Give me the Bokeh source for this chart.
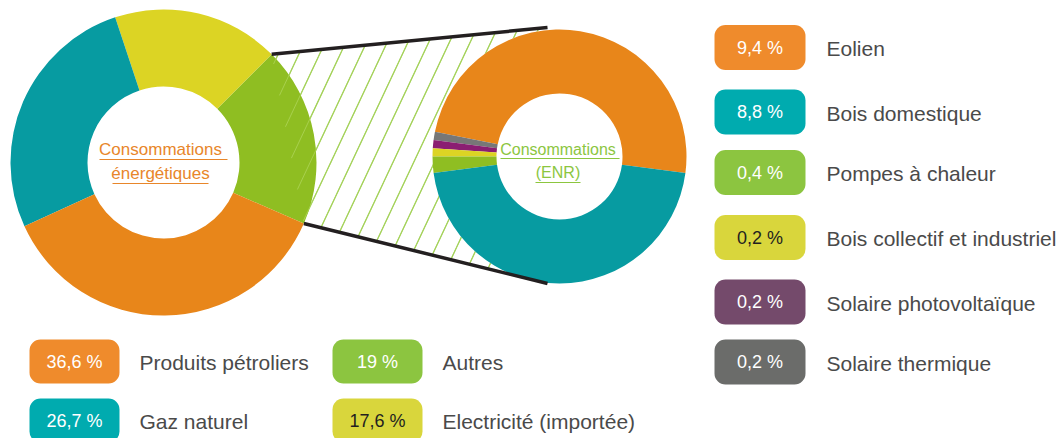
import numpy as np
from bokeh.plotting import figure
from bokeh.models import Range1d
from bokeh.core.properties import value
from bokeh.embed import file_html
from bokeh.resources import INLINE

# ---------------- data ----------------
ener_labels = ["Produits pétroliers", "Gaz naturel", "Autres", "Electricité (importée)"]
ener_values = [36.6, 26.7, 19.0, 17.6]
ener_text = ["36,6 %", "26,7 %", "19 %", "17,6 %"]
ener_slice_colors = ["#e8861a", "#079ba1", "#8fbe22", "#dcd424"]
ener_box_colors = ["#ef8b2c", "#00abaf", "#8cc540", "#d9d63c"]
ener_text_colors = ["white", "white", "white", "#231f20"]

enr_labels = ["Eolien", "Bois domestique", "Pompes à chaleur",
              "Bois collectif et industriel", "Solaire photovoltaïque", "Solaire thermique"]
enr_values = [9.4, 8.8, 0.4, 0.2, 0.2, 0.2]
enr_text = ["9,4 %", "8,8 %", "0,4 %", "0,2 %", "0,2 %", "0,2 %"]
enr_slice_colors = ["#e8861a", "#079ba1", "#8fbe22", "#dcd424", "#8b1e72", "#777777"]
enr_box_colors = ["#ef8b2c", "#00abaf", "#8cc540", "#d9d63c", "#744a6b", "#6b6c6a"]
enr_text_colors = ["white", "white", "white", "#231f20", "white", "white"]

FONT = "Liberation Sans"
W, H = 1064, 438


def Y(py):
    return H - py


p = figure(width=W, height=H, x_range=Range1d(0, W), y_range=Range1d(0, H),
           output_backend="svg", toolbar_location=None, min_border=0,
           x_axis_type=None, y_axis_type=None)
p.grid.visible = False
p.outline_line_color = None
p.background_fill_color = "white"
p.border_fill_color = "white"

# ---------------- geometry ----------------
L_CX, L_CY, L_R, L_r = 163, Y(162), 153, 76
R_CX, R_CY, R_R, R_r = 559, Y(156), 127, 63

# left donut: anticlockwise order Autres, Electricité, Gaz, Produits; Autres ends at 45deg
left_order = [2, 3, 1, 0]
ltot = sum(ener_values)
a_end_autres = np.radians(45)
a = a_end_autres - ener_values[2] / ltot * 2 * np.pi
l_start, l_end = [], []
for i in left_order:
    l_start.append(a)
    a += ener_values[i] / ltot * 2 * np.pi
    l_end.append(a)
green_start = l_start[0]

# right donut: anticlockwise Eolien, S.thermique, S.PV, Bois coll., PAC, Bois dom.
right_order = [0, 5, 4, 3, 2, 1]
rtot = sum(enr_values)
a = np.radians(-7.5)
r_start, r_end = [], []
for i in right_order:
    r_start.append(a)
    a += enr_values[i] / rtot * 2 * np.pi
    r_end.append(a)

# connector quad
P1 = np.array([L_CX + L_R * np.cos(a_end_autres), L_CY + L_R * np.sin(a_end_autres)])
P4 = np.array([L_CX + L_R * np.cos(green_start), L_CY + L_R * np.sin(green_start)])
P2 = np.array([R_CX - 12, R_CY + R_R + 2])
P3 = np.array([R_CX - 12, R_CY - R_R])
poly = [P4, P3, P2, P1]


def clip(a0, b0, poly):
    t0, t1 = 0.0, 1.0
    d = b0 - a0
    n = len(poly)
    for i in range(n):
        e0 = poly[i]
        e1 = poly[(i + 1) % n]
        edge = e1 - e0
        normal = np.array([-edge[1], edge[0]])
        num = np.dot(normal, a0 - e0)
        den = np.dot(normal, d)
        if abs(den) < 1e-12:
            if num < 0:
                return None
            continue
        t = -num / den
        if den > 0:
            t0 = max(t0, t)
        else:
            t1 = min(t1, t)
    if t0 >= t1:
        return None
    return a0 + t0 * d, a0 + t1 * d


k = 0.47
spacing = 21.7
hx0, hy0, hx1, hy1 = [], [], [], []
for n in range(-14, 16):
    xt = 343 + spacing * n
    tt = (xt - P1[0]) / (P2[0] - P1[0])
    yt = P1[1] + tt * (P2[1] - P1[1])
    a0 = np.array([xt - k * 400, yt - 400])
    b0 = np.array([xt + k * 400, yt + 400])
    seg = clip(a0, b0, poly)
    if seg is not None:
        hx0.append(seg[0][0]); hy0.append(seg[0][1])
        hx1.append(seg[1][0]); hy1.append(seg[1][1])

HATCH = "#8cc63f"
p.segment(hx0, hy0, hx1, hy1, line_color=HATCH, line_width=1.2)

# left donut
p.annular_wedge(x=L_CX, y=L_CY, inner_radius=L_r, outer_radius=L_R,
                start_angle=l_start, end_angle=l_end,
                fill_color=[ener_slice_colors[i] for i in left_order], line_color=None)
# faint hatch visible through green slice
p.segment(hx0, hy0, hx1, hy1, line_color="#b9dc6a", line_width=1.0, line_alpha=0.6)

# right donut (with white hole)
p.circle(x=[R_CX], y=[R_CY], radius=R_R, fill_color="white", line_color=None)
p.annular_wedge(x=R_CX, y=R_CY, inner_radius=R_r, outer_radius=R_R,
                start_angle=r_start, end_angle=r_end,
                fill_color=[enr_slice_colors[i] for i in right_order], line_color=None)

# connector lines
p.segment([P1[0], P4[0]], [P1[1], P4[1]], [P2[0], P3[0]], [P2[1], P3[1]],
          line_color="#231f20", line_width=3.5)

# centre labels (alphabetic baseline renders ~7.5px low, compensate)
ORANGE_T = "#e8862a"
GREEN_T = "#8cc63f"
p.text(x=[160, 160], y=[Y(148.5), Y(172.5)], text=["Consommations", "énergétiques"],
       text_font=value(FONT), text_font_size="17px", text_color=ORANGE_T,
       text_align="center", text_baseline="alphabetic")
p.segment([99, 112], [Y(159), Y(183)], [227, 208], [Y(159), Y(183)],
          line_color=ORANGE_T, line_width=1.2)
p.text(x=[557.5, 557.5], y=[Y(148.5), Y(171.5)], text=["Consommations", "(ENR)"],
       text_font=value(FONT), text_font_size="16px", text_color=GREEN_T,
       text_align="center", text_baseline="alphabetic")
p.segment([500, 535], [Y(158), Y(182)], [619, 580], [Y(158), Y(182)],
          line_color=GREEN_T, line_width=1.2)

# right legend
r_rows = [47, 111.5, 172, 237, 301.5, 361.5]
bl, br, bh = 714, 805, 45
p.quad(left=[bl] * 6, right=[br] * 6,
       top=[Y(c - bh / 2) for c in r_rows], bottom=[Y(c + bh / 2) for c in r_rows],
       fill_color=enr_box_colors, line_color=None, border_radius=11)
p.text(x=[(bl + br) / 2] * 6, y=[Y(c) for c in r_rows], text=enr_text,
       text_font=value(FONT), text_font_size="18px", text_color=enr_text_colors,
       text_align="center", text_baseline="middle")
p.text(x=[826] * 6, y=[Y(c + 1) for c in r_rows], text=enr_labels,
       text_font=value(FONT), text_font_size="21px", text_color="#4a4a4a",
       text_align="left", text_baseline="middle")

# bottom legend (2 columns x 2 rows)
b_x = [29, 29, 332, 332]
b_y = [361, 420, 361, 420]
bw, bh2 = 90, 44
p.quad(left=b_x, right=[x + bw for x in b_x],
       top=[Y(c - bh2 / 2) for c in b_y], bottom=[Y(c + bh2 / 2) for c in b_y],
       fill_color=ener_box_colors, line_color=None, border_radius=11)
p.text(x=[x + bw / 2 for x in b_x], y=[Y(c) for c in b_y], text=ener_text,
       text_font=value(FONT), text_font_size="18px", text_color=ener_text_colors,
       text_align="center", text_baseline="middle")
p.text(x=[x + 110 for x in b_x], y=[Y(c + 1) for c in b_y], text=ener_labels,
       text_font=value(FONT), text_font_size="21px", text_color="#4a4a4a",
       text_align="left", text_baseline="middle")

open("out.html", "w").write(file_html(p, INLINE))
